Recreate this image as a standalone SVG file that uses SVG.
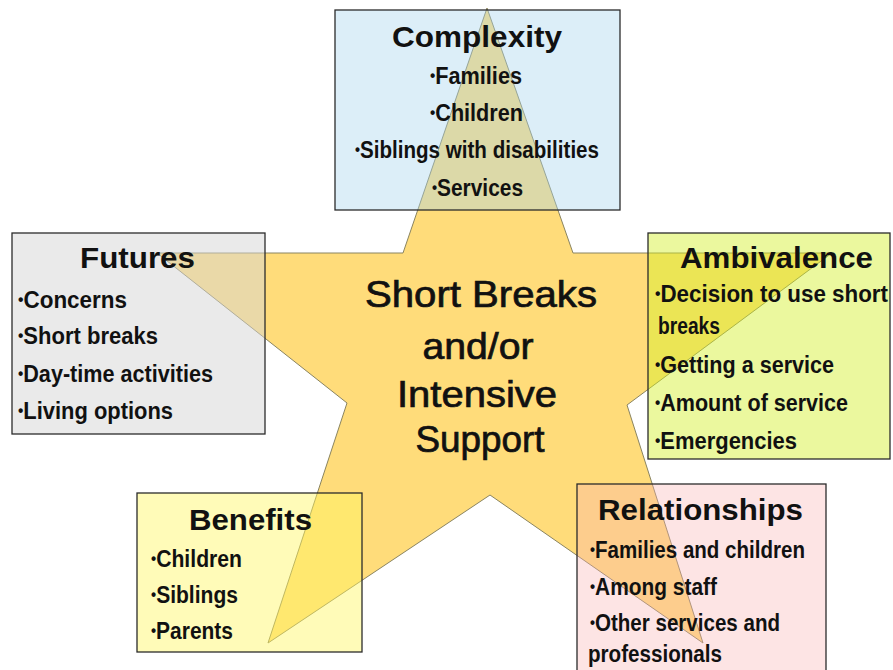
<svg xmlns="http://www.w3.org/2000/svg" width="893" height="670" viewBox="0 0 893 670">
<style>
.box{stroke:#2b2b2b;stroke-width:1.3}
.title{font-family:"Liberation Sans",Arial,sans-serif;font-weight:bold;font-size:30px;fill:#111}
.item{font-family:"Liberation Sans",Arial,sans-serif;font-weight:bold;font-size:23px;fill:#111}
.b{font-size:16px;baseline-shift:3px}
.center{font-family:"Liberation Sans",Arial,sans-serif;font-size:36px;fill:#111;stroke:#111;stroke-width:0.7;text-anchor:middle}
</style>
<rect x="0" y="0" width="893" height="670" fill="#ffffff"/>
<g id="star">
<polygon points="487,8 573,253 832,253 627,405 703,643 490,495 268,643 347,403 157,253 403,253" fill="#FFDC7A" stroke="#8a8460" stroke-width="1"/>
<text class="center" x="481" y="307" textLength="232" lengthAdjust="spacingAndGlyphs">Short Breaks</text>
<text class="center" x="478" y="359" textLength="111" lengthAdjust="spacingAndGlyphs">and/or</text>
<text class="center" x="477" y="407" textLength="160" lengthAdjust="spacingAndGlyphs">Intensive</text>
<text class="center" x="480" y="452" textLength="129" lengthAdjust="spacingAndGlyphs">Support</text>
</g>
<g id="connectors"></g>
<g id="complexity">
<rect class="box" x="335" y="10" width="285" height="200" fill="rgb(167,212,237)" fill-opacity="0.4"/>
<text class="title" x="392" y="47" textLength="170" lengthAdjust="spacingAndGlyphs">Complexity</text>
<text class="item" x="430" y="84" textLength="92" lengthAdjust="spacingAndGlyphs"><tspan class="b">•</tspan>Families</text>
<text class="item" x="430" y="121" textLength="93" lengthAdjust="spacingAndGlyphs"><tspan class="b">•</tspan>Children</text>
<text class="item" x="355" y="158" textLength="244" lengthAdjust="spacingAndGlyphs"><tspan class="b">•</tspan>Siblings with disabilities</text>
<text class="item" x="432" y="196" textLength="91" lengthAdjust="spacingAndGlyphs"><tspan class="b">•</tspan>Services</text>
</g>
<g id="futures">
<rect class="box" x="12" y="233" width="253" height="201" fill="rgb(213,213,213)" fill-opacity="0.5"/>
<text class="title" x="80" y="268" textLength="115" lengthAdjust="spacingAndGlyphs">Futures</text>
<text class="item" x="18" y="308" textLength="109" lengthAdjust="spacingAndGlyphs"><tspan class="b">•</tspan>Concerns</text>
<text class="item" x="18" y="344" textLength="140" lengthAdjust="spacingAndGlyphs"><tspan class="b">•</tspan>Short breaks</text>
<text class="item" x="18" y="382" textLength="195" lengthAdjust="spacingAndGlyphs"><tspan class="b">•</tspan>Day-time activities</text>
<text class="item" x="18" y="419" textLength="155" lengthAdjust="spacingAndGlyphs"><tspan class="b">•</tspan>Living options</text>
</g>
<g id="ambivalence">
<rect class="box" x="648" y="233" width="242" height="226" fill="rgb(211,240,40)" fill-opacity="0.45"/>
<text class="title" x="680" y="268" textLength="193" lengthAdjust="spacingAndGlyphs">Ambivalence</text>
<text class="item" x="655" y="302" textLength="233" lengthAdjust="spacingAndGlyphs"><tspan class="b">•</tspan>Decision to use short</text>
<text class="item" x="658" y="334" textLength="62" lengthAdjust="spacingAndGlyphs">breaks</text>
<text class="item" x="655" y="373" textLength="179" lengthAdjust="spacingAndGlyphs"><tspan class="b">•</tspan>Getting a service</text>
<text class="item" x="655" y="411" textLength="193" lengthAdjust="spacingAndGlyphs"><tspan class="b">•</tspan>Amount of service</text>
<text class="item" x="655" y="449" textLength="142" lengthAdjust="spacingAndGlyphs"><tspan class="b">•</tspan>Emergencies</text>
</g>
<g id="benefits">
<rect class="box" x="137" y="493" width="225" height="159" fill="rgb(255,247,98)" fill-opacity="0.45"/>
<text class="title" x="189" y="530" textLength="123" lengthAdjust="spacingAndGlyphs">Benefits</text>
<text class="item" x="151" y="567" textLength="91" lengthAdjust="spacingAndGlyphs"><tspan class="b">•</tspan>Children</text>
<text class="item" x="151" y="603" textLength="87" lengthAdjust="spacingAndGlyphs"><tspan class="b">•</tspan>Siblings</text>
<text class="item" x="151" y="639" textLength="82" lengthAdjust="spacingAndGlyphs"><tspan class="b">•</tspan>Parents</text>
</g>
<g id="relationships">
<rect class="box" x="577" y="484" width="249" height="195" fill="rgb(249,177,177)" fill-opacity="0.35"/>
<text class="title" x="598" y="520" textLength="205" lengthAdjust="spacingAndGlyphs">Relationships</text>
<text class="item" x="590" y="558" textLength="215" lengthAdjust="spacingAndGlyphs"><tspan class="b">•</tspan>Families and children</text>
<text class="item" x="590" y="595" textLength="127" lengthAdjust="spacingAndGlyphs"><tspan class="b">•</tspan>Among staff</text>
<text class="item" x="590" y="631" textLength="190" lengthAdjust="spacingAndGlyphs"><tspan class="b">•</tspan>Other services and</text>
<text class="item" x="588" y="662" textLength="134" lengthAdjust="spacingAndGlyphs">professionals</text>
</g>
</svg>
